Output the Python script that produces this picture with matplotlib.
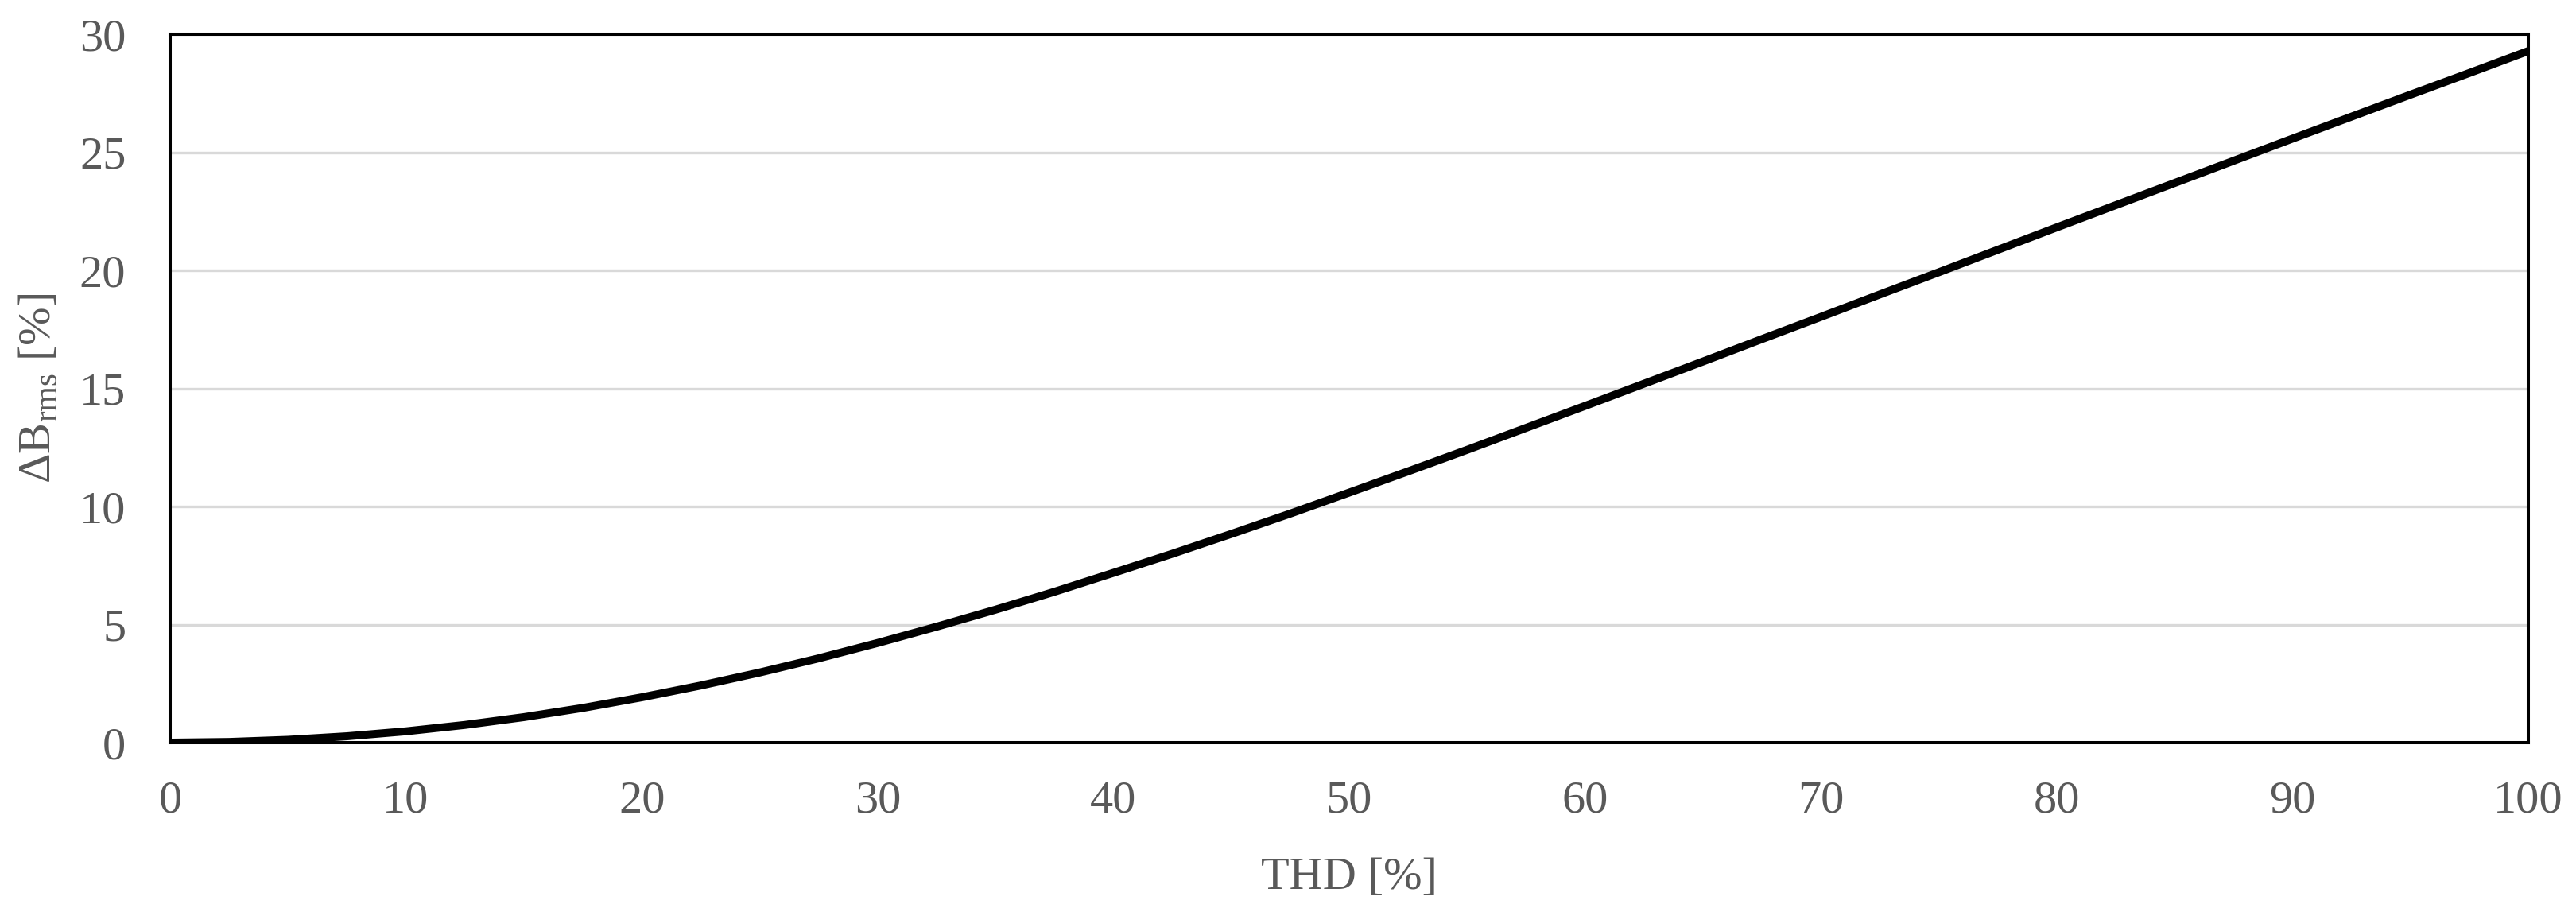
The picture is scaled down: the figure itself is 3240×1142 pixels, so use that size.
import matplotlib
matplotlib.use("Agg")
import matplotlib.pyplot as plt

# THD [%] vs ΔB_rms [%]
thd = [0, 2.5, 5, 7.5, 10, 12.5, 15, 17.5, 20, 22.5, 25, 27.5, 30, 32.5,
       35, 37.5, 40, 42.5, 45, 47.5, 50, 52.5, 55, 57.5, 60, 62.5, 65,
       67.5, 70, 72.5, 75, 77.5, 80, 82.5, 85, 87.5, 90, 92.5, 95, 97.5, 100]
delta_b = [0, 0.03, 0.12, 0.27, 0.48, 0.75, 1.08, 1.47, 1.92, 2.42, 2.97,
           3.57, 4.22, 4.91, 5.63, 6.39, 7.19, 8.0, 8.84, 9.70, 10.59,
           11.49, 12.40, 13.33, 14.26, 15.20, 16.14, 17.09, 18.03, 18.98,
           19.92, 20.87, 21.82, 22.76, 23.70, 24.64, 25.58, 26.51, 27.44,
           28.36, 29.29]

x_ticks = list(range(0, 101, 10))
y_ticks = list(range(0, 31, 5))

plt.rcParams["font.family"] = ["Liberation Serif", "DejaVu Serif"]
plt.rcParams["mathtext.fontset"] = "custom"
plt.rcParams["mathtext.rm"] = "Liberation Serif"

text_grey = "#595959"

fig = plt.figure(figsize=(32.41, 11.42), dpi=100)
ax = fig.add_axes([0.066, 0.1821, 0.9152, 0.7802])

ax.plot(thd, delta_b, color="black", linewidth=7.2, solid_capstyle="butt",
        solid_joinstyle="round", zorder=3)

ax.set_xlim(0, 100)
ax.set_ylim(0, 30)
ax.set_xticks(x_ticks)
ax.set_yticks(y_ticks)

ax.grid(axis="y", color="#d9d9d9", linewidth=2.4)
ax.set_axisbelow(True)

for sp in ax.spines.values():
    sp.set_color("black")
    sp.set_linewidth(2.9)

ax.tick_params(axis="both", length=0, labelsize=42, labelcolor=text_grey)
ax.tick_params(axis="x", pad=34)
ax.tick_params(axis="y", pad=40)

ax.set_xlabel("THD [%]", fontsize=42, color=text_grey)
ax.xaxis.set_label_coords(0.5, -0.162)
ax.set_ylabel(r"ΔB$_\mathregular{rms}$ [%]", fontsize=42, color=text_grey)
ax.yaxis.set_label_coords(-0.047, 0.5)

fig.savefig("out.png", dpi=100)
plt.close(fig)
